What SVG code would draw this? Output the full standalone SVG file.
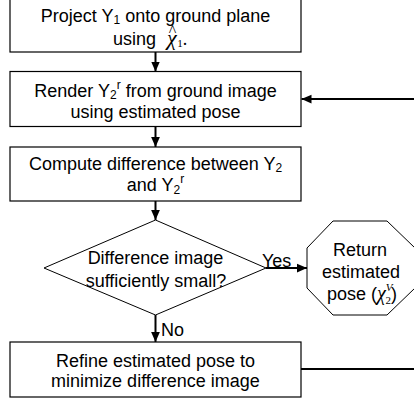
<svg xmlns="http://www.w3.org/2000/svg" width="414" height="400" viewBox="0 0 414 400">
  <defs>
    <marker id="arrow" markerUnits="userSpaceOnUse" markerWidth="10" markerHeight="10" viewBox="0 0 8 8" refX="8" refY="4" orient="auto">
      <path d="M0,0.5 L8,4 L0,7.5 Z" fill="#000"/>
    </marker>
    <style>
      .box { fill: #fff; stroke: #000; stroke-width: 1.2; }
      .shape { fill: #fff; stroke: #000; stroke-width: 1; }
      .conn { fill: none; stroke: #000; stroke-width: 2; }
      text { font-family: "Liberation Sans", Arial, sans-serif; font-size: 18px; fill: #000; }
      .c { text-anchor: middle; }
      .s { font-size: 12px; }
      .math { font-family: "Liberation Serif", "Times New Roman", serif; font-style: italic; }
      .mathup { font-family: "Liberation Serif", "Times New Roman", serif; font-style: normal; }
    </style>
  </defs>

  <!-- connectors -->
  <g id="connectors">
    <line class="conn" x1="155.5" y1="52" x2="155.5" y2="71.5" marker-end="url(#arrow)"/>
    <line class="conn" x1="155.5" y1="126.5" x2="155.5" y2="147" marker-end="url(#arrow)"/>
    <line class="conn" x1="155.5" y1="201" x2="155.5" y2="220" marker-end="url(#arrow)"/>
    <line class="conn" x1="155.5" y1="315" x2="155.5" y2="342" marker-end="url(#arrow)"/>
    <line class="conn" x1="266" y1="268" x2="307" y2="268" marker-end="url(#arrow)"/>
    <!-- refinement loop back to rendering step -->
    <path class="conn" d="M301,369 H420 V99 H301.5" marker-end="url(#arrow)"/>
    <text x="262" y="266.5">Yes</text>
    <text x="161" y="335.5">No</text>
  </g>

  <g id="project">
    <rect class="box" x="10" y="-3" width="291" height="55"/>
    <text class="c" x="155.5" y="22">Project Y<tspan class="s" dy="2">1</tspan><tspan dy="-2"> onto ground plane</tspan></text>
    <!-- "using" followed by the hatted chi estimate with subscript 1 -->
    <text x="113" y="45">using<tspan class="math" font-size="22" dx="11">χ</tspan><tspan class="mathup" font-size="16" dx="-8" dy="-9">^</tspan><tspan class="mathup" font-size="11" dx="1" dy="10.5">1</tspan><tspan class="mathup" dy="-1.5">.</tspan></text>
  </g>

  <g id="render">
    <rect class="box" x="10" y="71.5" width="291" height="55"/>
    <text class="c" x="155.5" y="96.5">Render Y<tspan class="s" dy="2.5">2</tspan><tspan class="s" dy="-10.5">r</tspan><tspan dy="8"> from ground image</tspan></text>
    <text class="c" x="155.5" y="117.5">using estimated pose</text>
  </g>

  <g id="compute">
    <rect class="box" x="10" y="147" width="291" height="54"/>
    <text class="c" x="155.5" y="169.5">Compute difference between Y<tspan class="s" dy="2.5">2</tspan></text>
    <text class="c" x="155.5" y="191">and Y<tspan class="s" dy="2.5">2</tspan><tspan class="s" dy="-10.5">r</tspan></text>
  </g>

  <g id="decision">
    <polygon class="shape" points="155.5,220 266,268 155.5,315 44,268"/>
    <text class="c" x="155.5" y="263.5">Difference image</text>
    <text class="c" x="156" y="287">sufficiently small?</text>
  </g>

  <g id="result">
    <polygon class="shape" points="333,221 387,221 415,248 415,288 387,315 333,315 307,288 307,248"/>
    <text class="c" x="360" y="256">Return</text>
    <text class="c" x="361" y="278">estimated</text>
    <text x="327" y="300">pose (<tspan class="math" font-size="20">χ</tspan><tspan class="math" font-size="11" dy="-9">V</tspan><tspan class="mathup" font-size="11" dx="-7" dy="13">2</tspan><tspan dy="-4">)</tspan></text>
  </g>

  <g id="refine">
    <rect class="box" x="10" y="342" width="291" height="55"/>
    <text class="c" x="155.5" y="366.5">Refine estimated pose to</text>
    <text class="c" x="155.5" y="387">minimize difference image</text>
  </g>
</svg>
